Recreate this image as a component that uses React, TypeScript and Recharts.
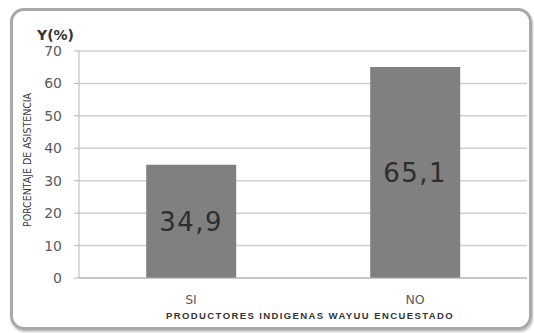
import { BarChart, Bar, XAxis, YAxis, CartesianGrid, LabelList } from "recharts"

const categories = ["SI", "NO"]
const asistencia = [34.9, 65.1]
const yTicks = [0, 10, 20, 30, 40, 50, 60, 70]

const data = categories.map((c, i) => ({ name: c, value: asistencia[i] }))

const tickFont = { fontFamily: "DejaVu Sans, Verdana, sans-serif", fontSize: 14, fill: "#5a5a5a" }

export default function App() {
  return (
    <div style={{ position: "absolute", left: 0, top: 0, width: 534, height: 333, background: "#fff", overflow: "hidden" }}>
      <div
        style={{
          position: "absolute",
          left: 10,
          top: 8,
          width: 522,
          height: 322,
          boxSizing: "border-box",
          border: "3px solid #a8a8a8",
          borderRadius: 14,
          boxShadow: "1px 2px 2px rgba(0,0,0,0.25)",
        }}
      />
      <div style={{ position: "absolute", left: 0, top: 0 }}>
        <BarChart
          width={534}
          height={333}
          data={data}
          margin={{ top: 51, right: 7, bottom: 25, left: 39 }}
          barCategoryGap="30%"
        >
          <CartesianGrid vertical={false} stroke="#cfcfcf" strokeWidth={1.5} />
          <XAxis
            dataKey="name"
            height={30}
            stroke="#b5b5b5"
            tickLine={false}
            tickMargin={11}
            tick={{ ...tickFont, fontSize: 12.5 }}
          />
          <YAxis
            domain={[0, 70]}
            ticks={yTicks}
            width={40}
            stroke="#b5b5b5"
            tickSize={5}
            tickMargin={12}
            tick={tickFont}
          />
          <Bar dataKey="value" fill="#808080" isAnimationActive={false}>
            <LabelList
              dataKey="value"
              position="center"
              formatter={(v: any) => String(v).replace(".", ",")}
              style={{ fontFamily: "DejaVu Sans, Verdana, sans-serif", fontSize: 26, fill: "#2e2e2e", letterSpacing: 1.5 }}
            />
          </Bar>
        </BarChart>
      </div>
      <div
        style={{
          position: "absolute",
          left: 37,
          top: 27,
          fontFamily: "DejaVu Sans, Verdana, sans-serif",
          fontWeight: "bold",
          fontSize: 14,
          color: "#333",
        }}
      >
        Y(%)
      </div>
      <div
        style={{
          position: "absolute",
          left: 27,
          top: 160,
          transform: "translate(-50%, -50%) rotate(-90deg)",
          whiteSpace: "nowrap",
          fontFamily: "Liberation Sans Narrow, Arial Narrow, DejaVu Sans Condensed, sans-serif",
          fontStretch: "condensed",
          fontSize: 10.5,
          color: "#3a3a3a",
        }}
      >
        PORCENTAJE DE ASISTENCIA
      </div>
      <div
        style={{
          position: "absolute",
          left: 310,
          top: 316,
          transform: "translate(-50%, -50%)",
          whiteSpace: "nowrap",
          lineHeight: 1,
          fontFamily: "Liberation Sans, Arial, sans-serif",
          fontWeight: "bold",
          fontSize: 9.5,
          letterSpacing: 1.4,
          color: "#333",
        }}
      >
        PRODUCTORES INDIGENAS WAYUU ENCUESTADO
      </div>
    </div>
  )
}
